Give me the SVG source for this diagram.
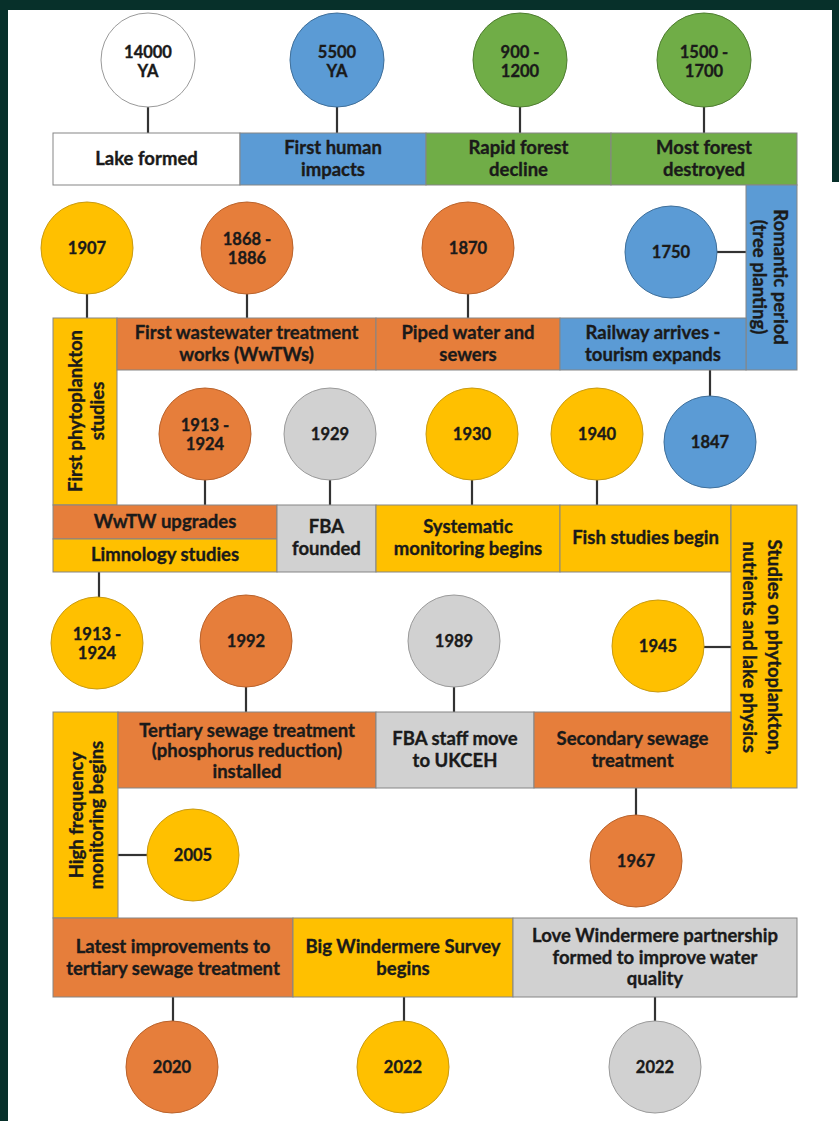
<svg xmlns="http://www.w3.org/2000/svg" width="839" height="1121" viewBox="0 0 839 1121">
<style>
.bg{fill:#ffffff}
.frame{fill:#07302a}
.box{stroke:#858585;stroke-width:1}
.or{fill:#E67E3B}
.ye{fill:#FFC000}
.bl{fill:#5B9BD5}
.gr{fill:#70AD47}
.gy{fill:#D1D1D1}
.wh{fill:#FFFFFF}
.c-or{fill:#E67E3B;stroke:#b9622b;stroke-width:1}
.c-ye{fill:#FFC000;stroke:#c99a10;stroke-width:1}
.c-bl{fill:#5B9BD5;stroke:#3f6f9a;stroke-width:1}
.c-gr{fill:#70AD47;stroke:#4f7d31;stroke-width:1}
.c-gy{fill:#D1D1D1;stroke:#9a9a9a;stroke-width:1}
.c-wh{fill:#FFFFFF;stroke:#9a9a9a;stroke-width:1}
.t{font-family:Lato,"Liberation Sans",sans-serif;font-weight:700;font-size:18.5px;fill:#1a1a1a;stroke:#1a1a1a;stroke-width:0.35;text-anchor:middle}
.ct{font-size:16.5px}
.conn line{stroke:#333333;stroke-width:2.2}
</style>
<rect class="bg" x="0" y="0" width="839" height="1121"/>
<rect class="frame" x="0" y="0" width="839" height="10"/>
<rect class="frame" x="0" y="0" width="8" height="1121"/>
<rect class="frame" x="832" y="0" width="7" height="182"/>

<g id="connectors" class="conn">
<line x1="148" y1="107" x2="148" y2="133"/>
<line x1="337" y1="107" x2="337" y2="133"/>
<line x1="520" y1="107" x2="520" y2="133"/>
<line x1="704" y1="107" x2="704" y2="133"/>
<line x1="87" y1="294" x2="87" y2="318"/>
<line x1="247" y1="294" x2="247" y2="318"/>
<line x1="468" y1="294" x2="468" y2="318"/>
<line x1="717" y1="252" x2="746" y2="252"/>
<line x1="710" y1="370" x2="710" y2="396"/>
<line x1="205" y1="480" x2="205" y2="505"/>
<line x1="330" y1="480" x2="330" y2="505"/>
<line x1="472" y1="480" x2="472" y2="505"/>
<line x1="597" y1="480" x2="597" y2="505"/>
<line x1="99" y1="572" x2="99" y2="598"/>
<line x1="246" y1="687" x2="246" y2="712"/>
<line x1="454" y1="687" x2="454" y2="712"/>
<line x1="704" y1="647" x2="731" y2="647"/>
<line x1="636" y1="788" x2="636" y2="815"/>
<line x1="118" y1="855" x2="147" y2="855"/>
<line x1="173" y1="997" x2="173" y2="1021"/>
<line x1="404" y1="997" x2="404" y2="1021"/>
<line x1="655" y1="997" x2="655" y2="1021"/>
</g>

<!-- Row 1 circles -->
<g id="c-14000"><circle class="c-wh" cx="148" cy="60" r="47"/><text class="t ct"><tspan x="148" y="58">14000</tspan><tspan x="148" y="77">YA</tspan></text></g>
<g id="c-5500"><circle class="c-bl" cx="337" cy="60" r="47"/><text class="t ct"><tspan x="337" y="58">5500</tspan><tspan x="337" y="77">YA</tspan></text></g>
<g id="c-900"><circle class="c-gr" cx="520" cy="60" r="47"/><text class="t ct"><tspan x="520" y="58">900 -</tspan><tspan x="520" y="77">1200</tspan></text></g>
<g id="c-1500"><circle class="c-gr" cx="704" cy="60" r="47"/><text class="t ct"><tspan x="704" y="58">1500 -</tspan><tspan x="704" y="77">1700</tspan></text></g>

<!-- Row 1 boxes -->
<g id="b-lake"><rect class="box wh" x="53" y="133" width="187" height="52"/><text class="t" x="146.5" y="165">Lake formed</text></g>
<g id="b-human"><rect class="box bl" x="240" y="133" width="186" height="52"/><text class="t"><tspan x="333" y="154">First human</tspan><tspan x="333" y="176">impacts</tspan></text></g>
<g id="b-rapid"><rect class="box gr" x="426" y="133" width="185" height="52"/><text class="t"><tspan x="518.5" y="154">Rapid forest</tspan><tspan x="518.5" y="176">decline</tspan></text></g>
<g id="b-most"><rect class="box gr" x="611" y="133" width="186" height="52"/><text class="t"><tspan x="704" y="154">Most forest</tspan><tspan x="704" y="176">destroyed</tspan></text></g>
<g id="b-romantic"><rect class="box bl" x="746" y="185" width="51" height="185"/><text class="t" transform="translate(771,277) rotate(90)"><tspan x="0" y="-3">Romantic period</tspan><tspan x="0" y="18">(tree planting)</tspan></text></g>

<!-- Row 2 circles -->
<g id="c-1907"><circle class="c-ye" cx="87" cy="248" r="46"/><text class="t ct" x="87" y="254">1907</text></g>
<g id="c-1868"><circle class="c-or" cx="247" cy="248" r="46"/><text class="t ct"><tspan x="247" y="245">1868 -</tspan><tspan x="247" y="264">1886</tspan></text></g>
<g id="c-1870"><circle class="c-or" cx="468" cy="248" r="46"/><text class="t ct" x="468" y="254">1870</text></g>
<g id="c-1750"><circle class="c-bl" cx="671" cy="252" r="46"/><text class="t ct" x="671" y="258">1750</text></g>

<!-- Row 2 boxes -->
<g id="b-phyto"><rect class="box ye" x="53" y="318" width="64" height="187"/><text class="t" transform="translate(85,411) rotate(-90)"><tspan x="0" y="-3">First phytoplankton</tspan><tspan x="0" y="19">studies</tspan></text></g>
<g id="b-wwtw"><rect class="box or" x="117" y="318" width="259" height="52"/><text class="t"><tspan x="246.5" y="339">First wastewater treatment</tspan><tspan x="246.5" y="361">works (WwTWs)</tspan></text></g>
<g id="b-piped"><rect class="box or" x="376" y="318" width="184" height="52"/><text class="t"><tspan x="468" y="339">Piped water and</tspan><tspan x="468" y="361">sewers</tspan></text></g>
<g id="b-railway"><rect class="box bl" x="560" y="318" width="186" height="52"/><text class="t"><tspan x="653" y="339">Railway arrives -</tspan><tspan x="653" y="361">tourism expands</tspan></text></g>

<!-- Row 3 circles -->
<g id="c-1913a"><circle class="c-or" cx="205" cy="434" r="46"/><text class="t ct"><tspan x="205" y="431">1913 -</tspan><tspan x="205" y="450">1924</tspan></text></g>
<g id="c-1929"><circle class="c-gy" cx="330" cy="434" r="46"/><text class="t ct" x="330" y="440">1929</text></g>
<g id="c-1930"><circle class="c-ye" cx="472" cy="434" r="46"/><text class="t ct" x="472" y="440">1930</text></g>
<g id="c-1940"><circle class="c-ye" cx="597" cy="434" r="46"/><text class="t ct" x="597" y="440">1940</text></g>
<g id="c-1847"><circle class="c-bl" cx="710" cy="442" r="46"/><text class="t ct" x="710" y="448">1847</text></g>

<!-- Row 3 boxes -->
<g id="b-upgrades"><rect class="box or" x="53" y="505" width="224" height="34"/><text class="t" x="165" y="528">WwTW upgrades</text></g>
<g id="b-limno"><rect class="box ye" x="53" y="539" width="224" height="33"/><text class="t" x="165" y="561">Limnology studies</text></g>
<g id="b-fba"><rect class="box gy" x="277" y="505" width="99" height="67"/><text class="t"><tspan x="326.5" y="533">FBA</tspan><tspan x="326.5" y="555">founded</tspan></text></g>
<g id="b-systematic"><rect class="box ye" x="376" y="505" width="184" height="67"/><text class="t"><tspan x="468" y="533">Systematic</tspan><tspan x="468" y="555">monitoring begins</tspan></text></g>
<g id="b-fish"><rect class="box ye" x="560" y="505" width="171" height="67"/><text class="t" x="645.5" y="544">Fish studies begin</text></g>
<g id="b-studies"><rect class="box ye" x="731" y="505" width="66" height="283"/><text class="t" transform="translate(761,647) rotate(90)"><tspan x="0" y="-7">Studies on phytoplankton,</tspan><tspan x="0" y="18">nutrients  and lake physics</tspan></text></g>

<!-- Row 4 circles -->
<g id="c-1913b"><circle class="c-ye" cx="97" cy="643" r="46"/><text class="t ct"><tspan x="97" y="640">1913 -</tspan><tspan x="97" y="659">1924</tspan></text></g>
<g id="c-1992"><circle class="c-or" cx="246" cy="641" r="46"/><text class="t ct" x="246" y="647">1992</text></g>
<g id="c-1989"><circle class="c-gy" cx="454" cy="641" r="46"/><text class="t ct" x="454" y="647">1989</text></g>
<g id="c-1945"><circle class="c-ye" cx="658" cy="646" r="46"/><text class="t ct" x="658" y="652">1945</text></g>

<!-- Row 4 boxes -->
<g id="b-highfreq"><rect class="box ye" x="53" y="712" width="65" height="206"/><text class="t" transform="translate(85,815) rotate(-90)"><tspan x="0" y="-2">High frequency</tspan><tspan x="0" y="18">monitoring begins</tspan></text></g>
<g id="b-tertiary"><rect class="box or" x="118" y="712" width="258" height="76"/><text class="t"><tspan x="247" y="736.5">Tertiary sewage treatment</tspan><tspan x="247" y="757">(phosphorus reduction)</tspan><tspan x="247" y="777.5">installed</tspan></text></g>
<g id="b-fbastaff"><rect class="box gy" x="376" y="712" width="158" height="76"/><text class="t"><tspan x="455" y="745">FBA staff move</tspan><tspan x="455" y="767">to UKCEH</tspan></text></g>
<g id="b-secondary"><rect class="box or" x="534" y="712" width="197" height="76"/><text class="t"><tspan x="632.5" y="745">Secondary sewage</tspan><tspan x="632.5" y="767">treatment</tspan></text></g>

<!-- Row 5 circles -->
<g id="c-2005"><circle class="c-ye" cx="193" cy="855" r="46"/><text class="t ct" x="193" y="861">2005</text></g>
<g id="c-1967"><circle class="c-or" cx="636" cy="861" r="46"/><text class="t ct" x="636" y="867">1967</text></g>

<!-- Row 5 boxes -->
<g id="b-latest"><rect class="box or" x="53" y="918" width="240" height="79"/><text class="t"><tspan x="173" y="953">Latest improvements to</tspan><tspan x="173" y="975">tertiary sewage treatment</tspan></text></g>
<g id="b-big"><rect class="box ye" x="293" y="918" width="220" height="79"/><text class="t"><tspan x="403" y="953">Big Windermere Survey</tspan><tspan x="403" y="975">begins</tspan></text></g>
<g id="b-love"><rect class="box gy" x="513" y="918" width="284" height="79"/><text class="t"><tspan x="655" y="942">Love Windermere partnership</tspan><tspan x="655" y="963.5">formed to improve water</tspan><tspan x="655" y="985">quality</tspan></text></g>

<!-- Bottom circles -->
<g id="c-2020"><circle class="c-or" cx="172" cy="1067" r="46"/><text class="t ct" x="172" y="1073">2020</text></g>
<g id="c-2022a"><circle class="c-ye" cx="403" cy="1067" r="46"/><text class="t ct" x="403" y="1073">2022</text></g>
<g id="c-2022b"><circle class="c-gy" cx="655" cy="1067" r="46"/><text class="t ct" x="655" y="1073">2022</text></g>
</svg>
